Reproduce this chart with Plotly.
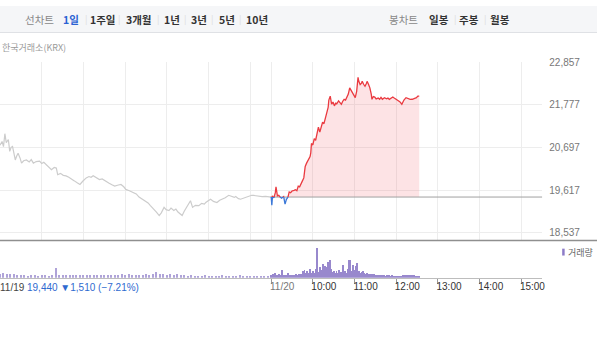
import plotly.graph_objects as go
import numpy as np

W, H = 600, 342

# ---------------- data ----------------
prev_close = 19440
change_abs = 1510
change_pct = -7.21

day1_times = ["09:00","09:03","09:05","09:07","09:09","09:12","09:14","09:16","09:18","09:20",
              "09:22","09:24","09:26","09:29","09:31","09:34","09:38","09:42","09:45","09:48",
              "09:52","09:57","10:00","10:03","10:07","10:10","10:14","10:18","10:21","10:23",
              "10:27","10:31","10:35","10:39","10:43","10:47","10:51","10:55","10:59","11:02",
              "11:04","11:08","11:11","11:14","11:18","11:23","11:27","11:30","11:33","11:37",
              "11:41","11:45","11:49","11:54","11:58","12:01","12:06","12:11","12:16","12:20",
              "12:25","12:29","12:33","12:36","12:39","12:42","12:45","12:49","12:52","12:56",
              "12:59","13:03","13:06","13:10","13:13","13:16","13:19","13:22","13:25","13:27",
              "13:30","13:34","13:37","13:41","13:46","13:50","13:54","13:56","14:00","14:03",
              "14:07","14:12","14:16","14:20","14:24","14:29","14:33","14:37","14:39","14:43",
              "14:46","14:50","14:53","14:58","15:02","15:05","15:10","15:17","15:22","15:26",
              "15:30"]
day1_prices = [20755,20850,20720,21046,20822,20900,20598,20700,20722,20560,
               20381,20480,20548,20420,20299,20360,20381,20330,20390,20299,
               20340,20349,20290,20320,20256,20200,20132,20190,20174,20007,
               20040,19990,19975,19940,19883,19850,19800,19758,19840,19900,
               19925,19960,19940,19982,19930,19883,19900,19860,19843,19790,
               19750,19718,19740,19758,19700,19634,19600,19551,19520,19440,
               19385,19330,19290,19230,19178,19110,19060,18971,19040,19178,
               19120,19096,19160,19100,19135,19060,19010,18971,19080,19135,
               19240,19345,19178,19230,19220,19280,19260,19302,19350,19385,
               19330,19302,19360,19385,19420,19484,19460,19430,19452,19400,
               19385,19410,19427,19470,19484,19480,19465,19452,19455,19445,
               19440]

day2_times = ["09:00","09:01","09:02","09:04","09:06","09:07","09:09","09:11","09:13","09:15",
              "09:18","09:20","09:22","09:24","09:26","09:28","09:30","09:33","09:35","09:37",
              "09:39","09:41","09:43","09:45","09:47","09:49","09:51","09:53","09:56","09:57",
              "09:58","10:00","10:02","10:04","10:06","10:08","10:10","10:12","10:14","10:16",
              "10:18","10:20","10:22","10:23","10:25","10:27","10:29","10:31","10:33","10:34",
              "10:37","10:39","10:41","10:43","10:45","10:47","10:49","10:51","10:53","10:55",
              "10:57","10:59","11:01","11:03","11:04","11:05","11:06","11:08","11:10","11:11",
              "11:13","11:15","11:17","11:18","11:20","11:22","11:24","11:25","11:27","11:29",
              "11:31","11:34","11:36","11:38","11:40","11:43","11:46","11:48","11:50","11:53",
              "11:55","11:57","11:59","12:00","12:03","12:05","12:08","12:11","12:14","12:17",
              "12:20","12:23","12:26","12:29","12:31","12:33"]
day2_prices = [19452,19235,19469,19420,19551,19701,19469,19484,19440,19409,
               19452,19260,19380,19427,19569,19550,19594,19610,19626,19600,
               19718,19700,19758,19850,19925,20217,20300,20381,20466,20560,
               20797,20760,20922,20880,21046,21213,21088,21250,21337,21300,
               21462,21626,21711,21900,22000,21793,21850,21751,21830,21793,
               21880,21836,21793,21870,21918,21900,21960,22050,22209,22150,
               22085,22010,21960,22120,22249,22473,22380,22292,22330,22374,
               22300,22249,22320,22374,22300,22209,22050,21918,21990,21975,
               21930,21950,21918,21970,21920,21960,21930,21950,21918,21940,
               21975,21950,21930,21918,21880,21860,21793,21900,21960,21930,
               21918,21920,21943,21960,22000,22000]

# volume (bins from 09:00)
vol_day1_step = 5
vol_day1 = [40,45,40,35,40,30,25,30,20,30,25,20,30,25,20,25,100,25,30,25,
            30,25,30,28,25,30,25,30,25,30,28,25,30,25,30,43,30,35,30,30,
            25,30,35,30,35,60,40,35,30,40,30,35,30,30,20,25,20,22,20,25,
            20,22,20,20,25,20,22,20,20,25,20,22,20,20,22,20,20,22]
vol_day2_step = 2
vol_day2 = [30,40,30,50,30,20,40,30,77,30,25,30,50,25,30,30,25,30,35,30,
            40,35,40,67,83,50,67,50,93,50,67,50,93,307,60,107,80,140,70,117,
            107,160,183,93,60,67,50,73,50,83,60,50,133,67,50,93,183,183,67,133,
            80,117,150,67,50,60,67,50,40,45,40,35,40,35,40,30,27,27,25,27,
            25,27,20,27,25,27,20,25,20,20,15,20,15,20,15,25,27,25,27,30,
            25,27,20,25,15,20,15]

y_ticks = [18537, 19617, 20697, 21777, 22857]
day_labels = ["11/19", "11/20"]
hour_labels = ["10:00", "11:00", "12:00", "13:00", "14:00", "15:00"]

SESSION = 390  # 09:00-15:30


def pos(day, hhmm):
    h, m = map(int, hhmm.split(":"))
    return day * SESSION + (h - 9) * 60 + m


x1 = [pos(0, t) for t in day1_times]
x2 = [pos(1, t) for t in day2_times]
v2 = np.array(day2_prices, dtype=float)


def split_side(xs, ys, base):
    up_x, up_y, dn_x, dn_y = [], [], [], []
    side = None
    for i in range(len(xs) - 1):
        a = (xs[i], ys[i])
        b = (xs[i + 1], ys[i + 1])
        pts = [a]
        if (a[1] - base) * (b[1] - base) < 0:
            t = (base - a[1]) / (b[1] - a[1])
            pts.append((a[0] + t * (b[0] - a[0]), base))
        pts.append(b)
        for p, q in zip(pts[:-1], pts[1:]):
            s = "up" if (p[1] + q[1]) / 2 >= base else "dn"
            tx, ty = (up_x, up_y) if s == "up" else (dn_x, dn_y)
            if s != side:
                tx += [p[0]]
                ty += [p[1]]
            tx += [q[0]]
            ty += [q[1]]
            if side is not None and s != side:
                ox, oy = (dn_x, dn_y) if s == "up" else (up_x, up_y)
                ox.append(None)
                oy.append(None)
            side = s
    return up_x, up_y, dn_x, dn_y


ux, uy, dx, dy = split_side(x2, day2_prices, prev_close)

RED = "#ea3a40"
BLUE = "#3b78d8"
GRAY = "#cccccc"
PURPLE = "#8d7cc8"

fig = go.Figure()

# volume bars
fig.add_trace(go.Bar(x=[pos(0, "09:00") + vol_day1_step * i for i in range(len(vol_day1))],
                     y=vol_day1, width=1.4, marker=dict(color=PURPLE, line=dict(width=0)),
                     opacity=0.7, xaxis="x", yaxis="y", showlegend=False))
fig.add_trace(go.Bar(x=[pos(1, "09:00") + vol_day2_step * i for i in range(len(vol_day2))],
                     y=vol_day2, width=1.4, marker=dict(color=PURPLE, line=dict(width=0)),
                     opacity=0.9, xaxis="x", yaxis="y", showlegend=False))

# fills relative to previous close
base_line = [prev_close] * len(x2)
fig.add_trace(go.Scatter(x=x2, y=base_line, mode="lines", line=dict(width=0),
                         xaxis="x2", yaxis="y2", showlegend=False, hoverinfo="skip"))
fig.add_trace(go.Scatter(x=x2, y=np.maximum(v2, prev_close), mode="lines", line=dict(width=0),
                         fill="tonexty", fillcolor="rgba(246,90,100,0.17)",
                         xaxis="x2", yaxis="y2", showlegend=False, hoverinfo="skip"))
fig.add_trace(go.Scatter(x=x2, y=base_line, mode="lines", line=dict(width=0),
                         xaxis="x2", yaxis="y2", showlegend=False, hoverinfo="skip"))
fig.add_trace(go.Scatter(x=x2, y=np.minimum(v2, prev_close), mode="lines", line=dict(width=0),
                         fill="tonexty", fillcolor="rgba(60,120,216,0.15)",
                         xaxis="x2", yaxis="y2", showlegend=False, hoverinfo="skip"))

# previous close reference line
fig.add_trace(go.Scatter(x=[pos(1, "09:00"), pos(1, "15:30")], y=[prev_close, prev_close],
                         mode="lines", line=dict(color="#a0a0a0", width=1),
                         xaxis="x2", yaxis="y2", showlegend=False, hoverinfo="skip"))

# previous day line
fig.add_trace(go.Scatter(x=x1, y=day1_prices, mode="lines", line=dict(color=GRAY, width=1.2),
                         xaxis="x2", yaxis="y2", showlegend=False))
# today line
fig.add_trace(go.Scatter(x=ux, y=uy, mode="lines", line=dict(color=RED, width=1.3),
                         xaxis="x2", yaxis="y2", showlegend=False, connectgaps=False))
fig.add_trace(go.Scatter(x=dx, y=dy, mode="lines", line=dict(color=BLUE, width=1.3),
                         xaxis="x2", yaxis="y2", showlegend=False, connectgaps=False))


def px(x):
    return x / W


def py(y):
    return 1 - y / H


plot_right = 545 / W
xr = [0, 2 * SESSION]

label_vals = [pos(1, "09:00")] + [pos(1, h) for h in hour_labels]
label_text = ['<span style="color:#777">%s</span>' % day_labels[1]] + hour_labels
grid_vals = [pos(d, "%02d:00" % h) for d in (0, 1) for h in range(10, 16)] + [pos(1, "09:00")]

vol_max = max(vol_day1 + vol_day2)

fig.update_layout(
    width=W, height=H,
    margin=dict(l=0, r=0, t=0, b=0),
    paper_bgcolor="white", plot_bgcolor="rgba(0,0,0,0)",
    bargap=0,
    font=dict(family="Liberation Sans, Arial, Noto Sans CJK KR", size=10, color="#555"),
    xaxis=dict(domain=[0, plot_right], range=xr, anchor="y",
               tickmode="array", tickvals=label_vals, ticktext=label_text,
               ticks="outside", ticklen=5, tickcolor="#999", tickwidth=1,
               ticklabelshift=11, ticklabelstandoff=-6,
               tickfont=dict(size=10, color="#333"),
               showgrid=False, zeroline=False, showline=True, linecolor="#bdbdbd", linewidth=1,
               fixedrange=True),
    yaxis=dict(domain=[py(276.5), py(240)], range=[0, vol_max * 36.5 / 30.7],
               visible=False, fixedrange=True),
    xaxis2=dict(domain=[0, plot_right], range=xr, anchor="y2",
                tickmode="array", tickvals=grid_vals, showticklabels=False,
                showgrid=True, gridcolor="#ededed", gridwidth=1, zeroline=False,
                ticks="", fixedrange=True),
    yaxis2=dict(domain=[py(238.5), py(57.3)],
                range=[22857 - (238.5 - 57.3) * 1080 / 43.35, 22857],
                side="right", anchor="x2",
                tickmode="array", tickvals=y_ticks, ticktext=[f"{v:,}" for v in y_ticks],
                tickfont=dict(size=10, color="#777"), ticklabelstandoff=6,
                showgrid=True, gridcolor="#ededed", gridwidth=1, zeroline=False,
                ticks="", fixedrange=True),
)

shapes = []
# top tab bar
shapes.append(dict(type="rect", xref="paper", yref="paper", x0=0, x1=1, y0=py(27), y1=1,
                   fillcolor="#f5f6f8", line=dict(width=0), layer="below"))
shapes.append(dict(type="line", xref="paper", yref="paper", x0=0, x1=1, y0=py(27), y1=py(27),
                   line=dict(color="#dfe1e5", width=1)))
# separator between price and volume panes
shapes.append(dict(type="line", xref="paper", yref="paper", x0=0, x1=1, y0=py(238.8), y1=py(238.8),
                   line=dict(color="#8f8f8f", width=1.5)))
# legend marker for volume
shapes.append(dict(type="rect", xref="paper", yref="paper", x0=px(565), x1=px(567.5),
                   y0=py(254), y1=py(247), fillcolor=PURPLE, line=dict(width=0)))
fig.update_layout(shapes=shapes)

ann = []
KR = "Noto Sans CJK KR"
tabs_left = [("선차트", 40, "#888", False), ("1일", 71.5, "#2a62d3", True),
             ("1주일", 104, "#333", True), ("3개월", 140, "#333", True),
             ("1년", 173, "#333", True), ("3년", 200, "#333", True),
             ("5년", 228, "#333", True), ("10년", 258, "#333", True),
             ("봉차트", 406, "#888", False), ("일봉", 441, "#333", True),
             ("주봉", 471, "#333", True), ("월봉", 503, "#333", True)]
for t, xc, col, b in tabs_left:
    ann.append(dict(text=f"<b>{t}</b>" if b else t, x=px(xc), y=py(13.5), xref="paper", yref="paper",
                    xanchor="center", yanchor="middle", showarrow=False,
                    font=dict(family=KR, size=10.5, color=col)))
for xs in [86, 120, 159, 186, 213, 241, 457, 487]:
    ann.append(dict(text="|", x=px(xs), y=py(13.5), xref="paper", yref="paper",
                    xanchor="center", yanchor="middle", showarrow=False,
                    font=dict(family=KR, size=9, color="#dcdcdc")))

ann.append(dict(text="한국거래소(KRX)", x=0, y=py(42), xref="paper", yref="paper",
                xanchor="left", yanchor="middle", showarrow=False,
                font=dict(family=KR, size=9, color="#9a9a9a")))
ann.append(dict(text="거래량", x=px(568.5), y=py(250.5), xref="paper", yref="paper",
                xanchor="left", yanchor="middle", showarrow=False,
                font=dict(family=KR, size=9, color="#666")))
# first day's date label (left edge of the time axis)
ann.append(dict(text=day_labels[0], x=pos(0, "09:00"), y=py(287), xref="x", yref="paper",
                xanchor="left", yanchor="middle", showarrow=False, xshift=-2,
                font=dict(family="Liberation Sans, Arial", size=10, color="#444")))
ann.append(dict(text=f"{prev_close:,} ▼{change_abs:,} ({change_pct:.2f}%)".replace("(-", "(−"),
                x=px(25.5), y=py(287), xref="paper", yref="paper",
                xanchor="left", yanchor="middle", showarrow=False,
                font=dict(family="Liberation Sans, Arial", size=10, color="#2f6ad0")))
fig.update_layout(annotations=ann)

fig.write_html("out.html")
